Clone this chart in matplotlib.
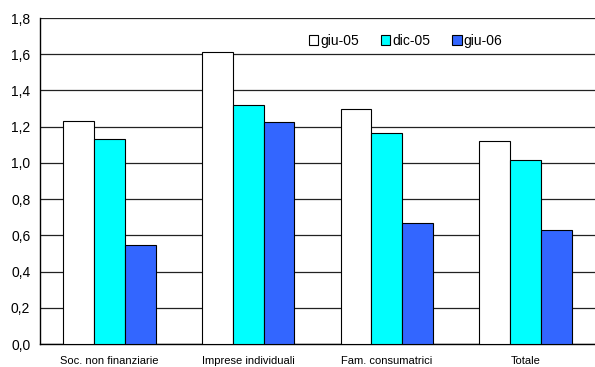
import numpy as np
import matplotlib
matplotlib.use('Agg')
import matplotlib.pyplot as plt

plt.rcParams['font.family'] = ['Liberation Sans', 'DejaVu Sans']

# dati
categorie = ['Soc. non finanziarie', 'Imprese individuali', 'Fam. consumatrici', 'Totale']
serie = ['giu-05', 'dic-05', 'giu-06']
giu05 = [1.23, 1.615, 1.295, 1.12]
dic05 = [1.132, 1.318, 1.163, 1.018]
giu06 = [0.548, 1.226, 0.666, 0.630]
colori = ['#FFFFFF', '#00FFFF', '#3366FF']

fig = plt.figure(figsize=(5.95, 3.67), dpi=100)
ax = fig.add_axes([40 / 595, 1 - 344 / 367, 1 - 40 / 595, (344 - 18) / 367])

x = np.arange(len(categorie))
w = 0.667 / 3  # gap width 150%
for i, (vals, nome) in enumerate(zip([giu05, dic05, giu06], serie)):
    ax.bar(x + (i - 1) * w, vals, width=w, color=colori[i], edgecolor='black',
           linewidth=0.8, label=nome, zorder=3)

ax.set_xlim(-0.5, len(categorie) - 0.5)
ax.set_ylim(0, 1.8)
ax.set_yticks(np.arange(0, 1.81, 0.2))
ax.set_yticklabels([f'{v:.1f}'.replace('.', ',') for v in np.arange(0, 1.81, 0.2)], fontsize=10)
ax.set_xticks(x)
ax.set_xticklabels(categorie, fontsize=8)
ax.tick_params(length=0)
ax.tick_params(axis='x', pad=9)
ax.tick_params(axis='y', pad=7)
ax.yaxis.grid(True, color='#222222', linewidth=0.9, zorder=0)
ax.set_axisbelow(True)
for s in ['top', 'right']:
    ax.spines[s].set_visible(False)
ax.spines['left'].set_linewidth(1)
ax.spines['bottom'].set_linewidth(1)

ax.legend(loc='center left', bbox_to_anchor=(0.484, 0.93), ncol=3, frameon=False,
          fontsize=10, handlelength=0.7, handleheight=0.7, handletextpad=0.15,
          columnspacing=1.55, borderaxespad=0, borderpad=0)

fig.savefig('out.png', dpi=100)
